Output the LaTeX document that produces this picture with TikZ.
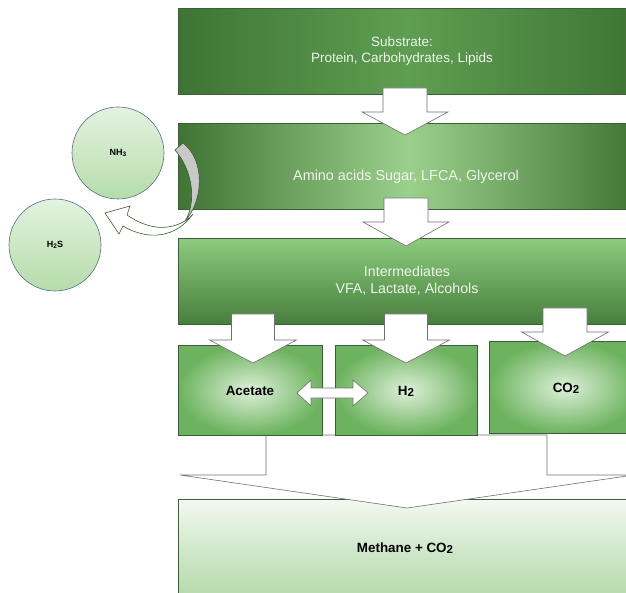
\documentclass[tikz,border=0pt]{standalone}
\usepackage{fontspec}
\setmainfont{Liberation Sans}
\definecolor{dk}{HTML}{3F7434}
\definecolor{midA}{HTML}{5E9E52}
\definecolor{ltB}{HTML}{9BD08C}
\definecolor{bthreetop}{HTML}{8DCB7F}
\definecolor{bthreebot}{HTML}{467F3C}
\definecolor{smallout}{HTML}{6DB35F}
\definecolor{smallin}{HTML}{DDF0D8}
\definecolor{fintop}{HTML}{F3F9F1}
\definecolor{finbot}{HTML}{AED7A4}
\definecolor{edgecol}{HTML}{3E5E3A}
\definecolor{arrowline}{HTML}{707070}
\definecolor{circtop}{HTML}{E4F3DF}
\definecolor{circbot}{HTML}{B5DCAA}
\definecolor{circline}{HTML}{526F86}
\definecolor{curvegray}{HTML}{C8C8C8}
\definecolor{curveline}{HTML}{3D5A30}
\definecolor{lighttext}{HTML}{EEF5EA}
\newcommand\blockdown[6]{%
  \draw[arr] ({#1-#5},#2) -- ({#1+#5},#2) -- ({#1+#5},#3) -- ({#1+#6},#3) -- (#1,#4) -- ({#1-#6},#3) -- ({#1-#5},#3) -- cycle;}
\begin{document}
\begin{tikzpicture}[x=1pt,y=-1pt,
  box/.style={draw=edgecol, line width=0.6pt, inner sep=0pt, anchor=north west, rectangle},
  darktext/.style={text=lighttext, align=center, inner sep=0pt},
  blk/.style={font=\bfseries\fontsize{13.4}{16}\selectfont, inner sep=0pt},
  arr/.style={fill=white, draw=arrowline, line width=0.6pt, line join=miter},
  gas/.style={circle, draw=circline, line width=0.6pt, minimum size=92pt, inner sep=0pt, top color=circtop, bottom color=circbot, font=\bfseries\fontsize{9}{11}\selectfont}]
\useasboundingbox (0,0) rectangle (626,593);
\clip (0,0) rectangle (626,593);
\fill[white] (0,0) rectangle (626,593);

% main boxes
\node[box, minimum width=460pt, minimum height=86pt, left color=dk, right color=dk, middle color=midA] (sub) at (178,8) {};
\node[box, minimum width=460pt, minimum height=86pt, left color=dk, right color=dk, middle color=ltB] (amino) at (178,123) {};
\node[box, minimum width=460pt, minimum height=86pt, top color=bthreetop, bottom color=bthreebot] (inter) at (178,238) {};
\node[box, minimum width=460pt, minimum height=110pt, top color=fintop, bottom color=finbot, middle color=finbot!55!fintop] (meth) at (178,499) {};

% big converging arrow
\draw[arr] (266,435) -- (266,475) -- (180,475) -- (407,508) -- (634,475) -- (547,475) -- (547,435) -- cycle;

% product boxes
\node[box, minimum width=144pt, minimum height=90pt, shading=radial, inner color=smallin, outer color=smallout] (acet) at (178,345) {};
\node[box, minimum width=142pt, minimum height=90pt, shading=radial, inner color=smallin, outer color=smallout] (htwo) at (335,345) {};
\node[box, minimum width=150pt, minimum height=92pt, shading=radial, inner color=smallin, outer color=smallout] (cotwo) at (489,341) {};

% down arrows
\blockdown{405}{88}{112}{135}{22}{43}
\blockdown{406}{198}{222}{246}{22}{43}
\blockdown{253}{314}{340}{363}{21.5}{43.5}
\blockdown{406}{314}{340}{363}{21.5}{43.5}
\blockdown{565}{308}{332}{356}{22}{43.5}

% double arrow
\draw[arr] (297,393) -- (311,380) -- (311,388) -- (353,388) -- (353,380) -- (368,393) -- (353,406) -- (353,398) -- (311,398) -- (311,406) -- cycle;

% gas circles
\node[gas] (nh) at (118,153) {NH\raisebox{-0.3ex}{\fontsize{6.5}{7}\selectfont 3}};
\node[gas] (hs) at (55,245) {H\raisebox{-0.3ex}{\fontsize{6.5}{7}\selectfont 2}S};

% curved arrow
\draw[fill=curvegray, draw=curveline, line width=0.6pt] (175,150) .. controls (194,172) and (196,204) .. (185,221) .. controls (204,200) and (205,160) .. (183,143) -- cycle;
\draw[fill=white, draw=curveline, line width=0.6pt] (185,221) .. controls (166,232) and (146,228) .. (127,215) -- (130,206) -- (105,213) -- (119,234) -- (123,226) .. controls (148,241) and (176,238) .. (193,214) .. controls (191,217) and (188,219) .. (185,221) -- cycle;

% texts
\node[darktext, font=\fontsize{13.5}{16}\selectfont] (subt) at (402,51) {Substrate:\\Protein, Carbohydrates, Lipids};
\node[darktext, font=\fontsize{14.4}{17}\selectfont] (aminot) at (406,177) {Amino acids Sugar, LFCA, Glycerol};
\node[darktext, font=\fontsize{14.2}{17}\selectfont] (intert) at (407,281) {Intermediates\\VFA, Lactate, Alcohols};
\node[blk] (acett) at (250,391) {Acetate};
\node[blk] (htwot) at (406,391) {H\raisebox{-0.15ex}{\fontsize{11.5}{12}\selectfont 2}};
\node[blk] (cotwot) at (566,388) {CO\raisebox{-0.15ex}{\fontsize{11.5}{12}\selectfont 2}};
\node[blk] (metht) at (405,548) {Methane + CO\raisebox{-0.15ex}{\fontsize{11.5}{12}\selectfont 2}};
\end{tikzpicture}
\end{document}
